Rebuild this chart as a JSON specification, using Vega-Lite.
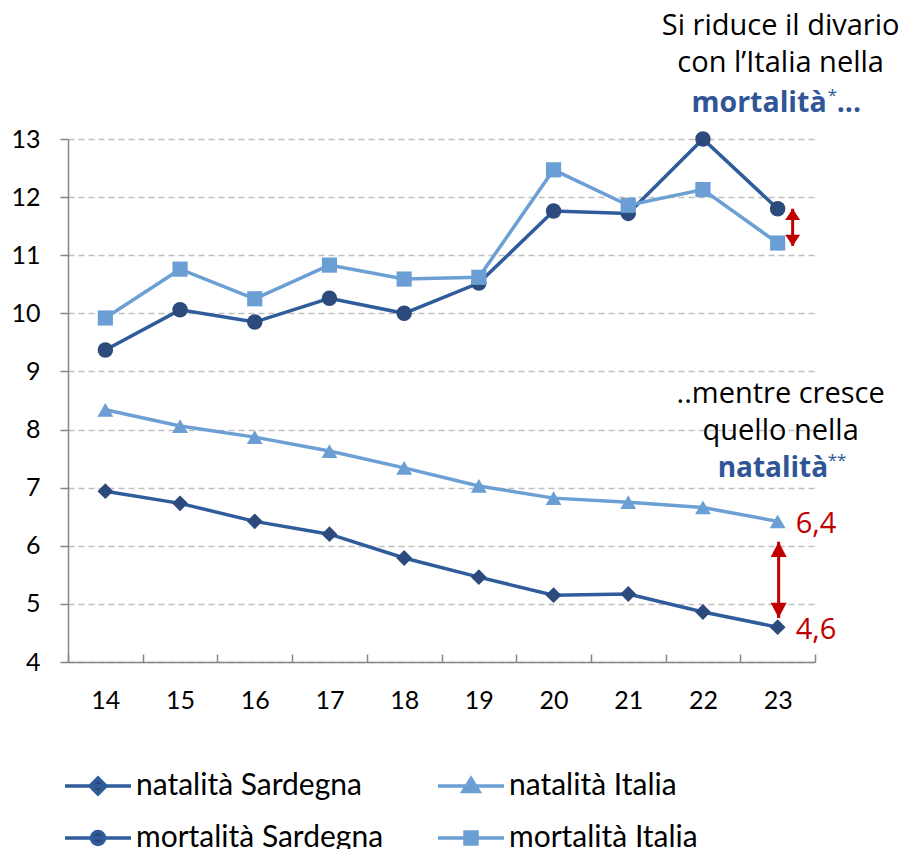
{
  "$schema": "https://vega.github.io/schema/vega-lite/v6.json",
  "width": 747,
  "height": 523,
  "autosize": {"type": "none"},
  "padding": {"left": 68, "top": 139, "right": 85, "bottom": 187},
  "background": "white",
  "config": {
    "view": {"stroke": null},
    "font": "Lato",
    "axisX": {"title": null, "tickBand": "extent", "domainColor": "#868686", "domainWidth": 1.5, "tickColor": "#868686", "tickWidth": 1.5, "tickSize": -8, "labelPadding": 34, "labelFontSize": 25, "labelFont": "Lato", "labelColor": "#000000", "labelAngle": 0, "grid": false},
    "axisY": {"title": null, "tickCount": 9, "domainColor": "#868686", "domainWidth": 1.5, "tickColor": "#868686", "tickWidth": 1.5, "tickSize": 8, "labelPadding": 20, "labelFontSize": 25, "labelFont": "Lato", "labelColor": "#000000", "grid": true, "gridColor": "#BFBFBF", "gridWidth": 1.5, "gridDash": [6, 4]},
    "legend": {
      "title": null, "orient": "none", "legendX": 15, "legendY": 632, "columns": 2,
      "symbolSize": 400, "symbolStrokeWidth": 3.5, "labelFontSize": 30, "labelFont": "Lato", "labelColor": "#000000",
      "labelOffset": 23, "columnPadding": 47, "rowPadding": 22, "labelLimit": 500
    }
  },
  "datasets": {
    "serie": [
      {"anno": "14", "serie": "natalità Sardegna", "valore": 6.94},
      {"anno": "15", "serie": "natalità Sardegna", "valore": 6.73},
      {"anno": "16", "serie": "natalità Sardegna", "valore": 6.42},
      {"anno": "17", "serie": "natalità Sardegna", "valore": 6.20},
      {"anno": "18", "serie": "natalità Sardegna", "valore": 5.79},
      {"anno": "19", "serie": "natalità Sardegna", "valore": 5.46},
      {"anno": "20", "serie": "natalità Sardegna", "valore": 5.15},
      {"anno": "21", "serie": "natalità Sardegna", "valore": 5.17},
      {"anno": "22", "serie": "natalità Sardegna", "valore": 4.86},
      {"anno": "23", "serie": "natalità Sardegna", "valore": 4.60},
      {"anno": "14", "serie": "natalità Italia", "valore": 8.34},
      {"anno": "15", "serie": "natalità Italia", "valore": 8.06},
      {"anno": "16", "serie": "natalità Italia", "valore": 7.87},
      {"anno": "17", "serie": "natalità Italia", "valore": 7.63},
      {"anno": "18", "serie": "natalità Italia", "valore": 7.34},
      {"anno": "19", "serie": "natalità Italia", "valore": 7.03},
      {"anno": "20", "serie": "natalità Italia", "valore": 6.82},
      {"anno": "21", "serie": "natalità Italia", "valore": 6.75},
      {"anno": "22", "serie": "natalità Italia", "valore": 6.66},
      {"anno": "23", "serie": "natalità Italia", "valore": 6.42},
      {"anno": "14", "serie": "mortalità Sardegna", "valore": 9.37},
      {"anno": "15", "serie": "mortalità Sardegna", "valore": 10.06},
      {"anno": "16", "serie": "mortalità Sardegna", "valore": 9.85},
      {"anno": "17", "serie": "mortalità Sardegna", "valore": 10.26},
      {"anno": "18", "serie": "mortalità Sardegna", "valore": 10.00},
      {"anno": "19", "serie": "mortalità Sardegna", "valore": 10.52},
      {"anno": "20", "serie": "mortalità Sardegna", "valore": 11.76},
      {"anno": "21", "serie": "mortalità Sardegna", "valore": 11.72},
      {"anno": "22", "serie": "mortalità Sardegna", "valore": 13.00},
      {"anno": "23", "serie": "mortalità Sardegna", "valore": 11.80},
      {"anno": "14", "serie": "mortalità Italia", "valore": 9.92},
      {"anno": "15", "serie": "mortalità Italia", "valore": 10.76},
      {"anno": "16", "serie": "mortalità Italia", "valore": 10.25},
      {"anno": "17", "serie": "mortalità Italia", "valore": 10.83},
      {"anno": "18", "serie": "mortalità Italia", "valore": 10.59},
      {"anno": "19", "serie": "mortalità Italia", "valore": 10.62},
      {"anno": "20", "serie": "mortalità Italia", "valore": 12.47},
      {"anno": "21", "serie": "mortalità Italia", "valore": 11.86},
      {"anno": "22", "serie": "mortalità Italia", "valore": 12.13},
      {"anno": "23", "serie": "mortalità Italia", "valore": 11.21}
    ]
  },
  "layer": [
    {
      "data": {"name": "serie"},
      "layer": [
        {
          "mark": {"type": "line", "strokeWidth": 3.5},
          "encoding": {
            "x": {
              "field": "anno", "type": "ordinal", "sort": null, "title": null,
              "scale": {"type": "band", "paddingInner": 0, "paddingOuter": 0, "domain": ["14","15","16","17","18","19","20","21","22","23"]}
            },
            "y": {
              "field": "valore", "type": "quantitative", "title": null,
              "scale": {"domain": [4, 13], "nice": false, "zero": false}
            },
            "stroke": {
              "field": "serie", "type": "nominal",
              "scale": {"domain": ["natalità Sardegna", "mortalità Sardegna", "natalità Italia", "mortalità Italia"], "range": ["#2F5C9B", "#2F5C9B", "#6C9FD3", "#6C9FD3"]}
            }
          }
        },
        {
          "transform": [{"filter": "datum.serie === 'natalità Sardegna'"}],
          "mark": {"type": "point", "shape": "diamond", "filled": true, "opacity": 1, "size": 250},
          "encoding": {
            "x": {"field": "anno", "type": "ordinal", "sort": null, "title": null},
            "y": {"field": "valore", "type": "quantitative", "title": null},
            "color": {"field": "serie", "type": "nominal", "scale": {"domain": ["natalità Sardegna", "mortalità Sardegna", "natalità Italia", "mortalità Italia"], "range": ["#2C4A7C", "#2C4A7C", "#6A9ED5", "#6A9ED5"]}}
          }
        },
        {
          "transform": [{"filter": "datum.serie === 'natalità Italia'"}],
          "mark": {"type": "point", "shape": "triangle-up", "filled": true, "opacity": 1, "size": 250},
          "encoding": {
            "x": {"field": "anno", "type": "ordinal", "sort": null, "title": null},
            "y": {"field": "valore", "type": "quantitative", "title": null},
            "color": {"field": "serie", "type": "nominal"}
          }
        },
        {
          "transform": [{"filter": "datum.serie === 'mortalità Sardegna'"}],
          "mark": {"type": "point", "shape": "circle", "filled": true, "opacity": 1, "size": 240},
          "encoding": {
            "x": {"field": "anno", "type": "ordinal", "sort": null, "title": null},
            "y": {"field": "valore", "type": "quantitative", "title": null},
            "color": {"field": "serie", "type": "nominal"}
          }
        },
        {
          "transform": [{"filter": "datum.serie === 'mortalità Italia'"}],
          "mark": {"type": "point", "shape": "square", "filled": true, "opacity": 1, "size": 230},
          "encoding": {
            "x": {"field": "anno", "type": "ordinal", "sort": null, "title": null},
            "y": {"field": "valore", "type": "quantitative", "title": null},
            "color": {"field": "serie", "type": "nominal"}
          }
        },
        {
          "transform": [{"filter": "false"}],
          "mark": {"type": "point", "filled": true},
          "encoding": {
            "shape": {"field": "serie", "type": "nominal",
              "scale": {"domain": ["natalità Sardegna", "mortalità Sardegna", "natalità Italia", "mortalità Italia"],
                "range": ["M-3.3,0H3.3M0,-0.8L0.8,0L0,0.8L-0.8,0Z", "M-3.3,0H3.3M-0.65,0A0.65,0.65,0,1,0,0.65,0A0.65,0.65,0,1,0,-0.65,0Z", "M-3.3,0H3.3M0,-0.75L0.8,0.55L-0.8,0.55Z", "M-3.3,0H3.3M-0.6,-0.6H0.6V0.6H-0.6Z"]}}
          }
        }
      ]
    },
    {
      "data": {"values": [{"anno": "23", "inizio": 11.80, "fine": 11.16}]},
      "layer": [
        {"mark": {"type": "rule", "xOffset": 15, "strokeWidth": 3, "color": "#C00000"},
         "encoding": {"x": {"field": "anno", "type": "ordinal", "title": null}, "y": {"field": "inizio", "type": "quantitative", "title": null}, "y2": {"field": "fine"}}},
        {"mark": {"type": "point", "shape": "M0,0L-1,1.5L1,1.5Z", "filled": true, "opacity": 1, "size": 225, "xOffset": 15, "color": "#C00000"},
         "encoding": {"x": {"field": "anno", "type": "ordinal", "title": null}, "y": {"field": "inizio", "type": "quantitative", "title": null}}},
        {"mark": {"type": "point", "shape": "M0,0L-1,-1.5L1,-1.5Z", "filled": true, "opacity": 1, "size": 225, "xOffset": 15, "color": "#C00000"},
         "encoding": {"x": {"field": "anno", "type": "ordinal", "title": null}, "y": {"field": "fine", "type": "quantitative", "title": null}}}
      ]
    },
    {
      "data": {"values": [{"anno": "23", "inizio": 6.07, "fine": 4.757}]},
      "layer": [
        {"mark": {"type": "rule", "xOffset": 1, "strokeWidth": 3, "color": "#C00000"},
         "encoding": {"x": {"field": "anno", "type": "ordinal", "title": null}, "y": {"field": "inizio", "type": "quantitative", "title": null}, "y2": {"field": "fine"}}},
        {"mark": {"type": "point", "shape": "M0,0L-1,1.9L1,1.9Z", "filled": true, "opacity": 1, "size": 256, "xOffset": 1, "color": "#C00000"},
         "encoding": {"x": {"field": "anno", "type": "ordinal", "title": null}, "y": {"field": "inizio", "type": "quantitative", "title": null}}},
        {"mark": {"type": "point", "shape": "M0,0L-1,-1.9L1,-1.9Z", "filled": true, "opacity": 1, "size": 256, "xOffset": 1, "color": "#C00000"},
         "encoding": {"x": {"field": "anno", "type": "ordinal", "title": null}, "y": {"field": "fine", "type": "quantitative", "title": null}}}
      ]
    },
    {
      "data": {"values": [{"anno": "23", "valore": 6.42, "etichetta": "6,4"}, {"anno": "23", "valore": 4.60, "etichetta": "4,6"}]},
      "mark": {"type": "text", "align": "left", "baseline": "middle", "dx": 18, "dy": 3, "font": "Open Sans", "fontSize": 29, "color": "#C00000"},
      "encoding": {"x": {"field": "anno", "type": "ordinal", "title": null}, "y": {"field": "valore", "type": "quantitative", "title": null}, "text": {"field": "etichetta"}}
    },
    {
      "data": {"values": [
        {"anno": "23", "valore": 14.79, "testo": "Si riduce il divario\ncon l’Italia nella"},
        {"anno": "23", "valore": 8.457, "testo": "..mentre cresce\nquello nella"}
      ]},
      "mark": {"type": "text", "align": "center", "baseline": "alphabetic", "lineBreak": "\n", "lineHeight": 37, "font": "Open Sans", "fontSize": 29, "color": "#000000", "dx": 3},
      "encoding": {"x": {"field": "anno", "type": "ordinal", "title": null}, "y": {"field": "valore", "type": "quantitative", "title": null}, "text": {"field": "testo"}}
    },
    {
      "data": {"values": [{"anno": "23", "valore": 13.465, "testo": "mortalità"}]},
      "mark": {"type": "text", "align": "right", "baseline": "alphabetic", "dx": 49, "font": "Open Sans", "fontWeight": "bold", "fontSize": 28.5, "color": "#2F5597"},
      "encoding": {"x": {"field": "anno", "type": "ordinal", "title": null}, "y": {"field": "valore", "type": "quantitative", "title": null}, "text": {"field": "testo"}}
    },
    {
      "data": {"values": [{"anno": "23", "valore": 13.66, "testo": "*"}]},
      "mark": {"type": "text", "align": "left", "baseline": "alphabetic", "dx": 50, "font": "Open Sans", "fontSize": 17, "color": "#2F5597"},
      "encoding": {"x": {"field": "anno", "type": "ordinal", "title": null}, "y": {"field": "valore", "type": "quantitative", "title": null}, "text": {"field": "testo"}}
    },
    {
      "data": {"values": [{"anno": "23", "valore": 13.465, "testo": "..."}]},
      "mark": {"type": "text", "align": "left", "baseline": "alphabetic", "dx": 59, "font": "Open Sans", "fontWeight": "bold", "fontSize": 28.5, "color": "#2F5597"},
      "encoding": {"x": {"field": "anno", "type": "ordinal", "title": null}, "y": {"field": "valore", "type": "quantitative", "title": null}, "text": {"field": "testo"}}
    },
    {
      "data": {"values": [{"anno": "23", "valore": 7.184, "testo": "natalità"}]},
      "mark": {"type": "text", "align": "left", "baseline": "alphabetic", "dx": -60, "font": "Open Sans", "fontWeight": "bold", "fontSize": 28, "color": "#2F5597"},
      "encoding": {"x": {"field": "anno", "type": "ordinal", "title": null}, "y": {"field": "valore", "type": "quantitative", "title": null}, "text": {"field": "testo"}}
    },
    {
      "data": {"values": [{"anno": "23", "valore": 7.38, "testo": "**"}]},
      "mark": {"type": "text", "align": "left", "baseline": "alphabetic", "dx": 50, "font": "Open Sans", "fontSize": 17, "color": "#2F5597"},
      "encoding": {"x": {"field": "anno", "type": "ordinal", "title": null}, "y": {"field": "valore", "type": "quantitative", "title": null}, "text": {"field": "testo"}}
    }
  ]
}
